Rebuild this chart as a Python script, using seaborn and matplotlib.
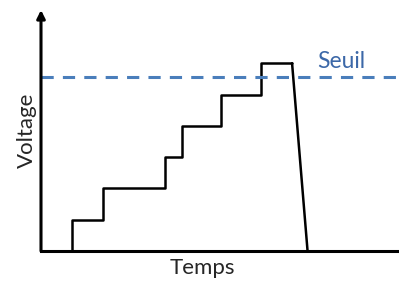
import numpy as np
import pandas as pd
import matplotlib.pyplot as plt
import seaborn as sns

# paliers de tension (temps de debut, niveau)
temps = [1, 1, 2, 4, 4.55, 5.8, 7.1, 8.1]
voltage = [0, 1, 2, 3, 4, 5, 6, 6]
# chute finale
temps_chute = [8.1, 8.6]
voltage_chute = [6, 0]
seuil = 5.55

sns.set_style("white")
plt.rcParams['font.family'] = ['Lato', 'DejaVu Sans']

fig = plt.figure(figsize=(3.99, 2.84), dpi=100)
ax = fig.add_axes([41/399, 33/284, 358/399, 241/284])

df = pd.DataFrame({"temps": temps, "voltage": voltage})
sns.lineplot(data=df, x="temps", y="voltage", sort=False, estimator=None,
             drawstyle="steps-post", color="black", lw=1.8, ax=ax)
sns.lineplot(x=temps_chute, y=voltage_chute, sort=False, estimator=None,
             color="black", lw=1.8, ax=ax)

ax.axhline(seuil, color="#4a7ebb", lw=2.2, ls=(0, (4, 3)))
ax.text(8.92, 6.04, "Seuil", color="#3c68a8", fontsize=16.5, va="center", ha="left")

ax.set_xlim(0, 11.55)
ax.set_ylim(0, 7.7)
ax.set_xticks([])
ax.set_yticks([])
for s in ["top", "right", "left"]:
    ax.spines[s].set_visible(False)
ax.spines["bottom"].set_color("black")
ax.spines["bottom"].set_linewidth(2.2)
ax.annotate("", xy=(0, 1), xycoords="axes fraction", xytext=(0, 0),
            arrowprops=dict(arrowstyle="-|>", lw=2.2, color="black", mutation_scale=12,
                            shrinkA=0, shrinkB=0))

ax.set_xlabel("Temps", fontsize=16)
ax.xaxis.set_label_coords(0.45, -0.03, transform=ax.transAxes)
ax.xaxis.label.set_va("top")
ax.set_ylabel("Voltage", fontsize=16, labelpad=3)

fig.savefig("out.png", dpi=100)
